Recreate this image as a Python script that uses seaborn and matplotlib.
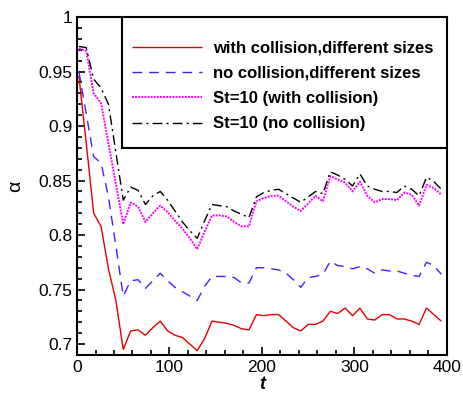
# alpha vs t for the four collision cases
import numpy as np
import pandas as pd
import matplotlib
matplotlib.use("Agg")
import matplotlib.pyplot as plt
import seaborn as sns
from matplotlib.ticker import MultipleLocator
from matplotlib.patches import Rectangle

# -------------------------------
# Data
# -------------------------------
t = [2, 10, 18, 26, 34, 42, 50, 58, 66, 74, 82, 90, 98, 106, 114, 122, 130, 138, 146, 154,
     162, 170, 178, 186, 194, 202, 210, 218, 226, 234, 242, 250, 258, 266, 274, 282, 290, 298,
     306, 314, 322, 330, 338, 346, 354, 362, 370, 378, 386, 394]

coll_diff = [0.946, 0.884, 0.820, 0.808, 0.769, 0.740, 0.695, 0.712, 0.713, 0.708,
             0.715, 0.721, 0.712, 0.708, 0.706, 0.700, 0.694, 0.705, 0.721, 0.720,
             0.719, 0.717, 0.714, 0.713, 0.727, 0.726, 0.727, 0.727, 0.721, 0.715,
             0.712, 0.718, 0.718, 0.721, 0.730, 0.728, 0.733, 0.726, 0.733, 0.723,
             0.722, 0.727, 0.727, 0.723, 0.723, 0.721, 0.718, 0.733, 0.727, 0.721]

nocoll_diff = [0.950, 0.911, 0.872, 0.866, 0.835, 0.790, 0.744, 0.758, 0.759, 0.751,
               0.758, 0.765, 0.758, 0.752, 0.748, 0.744, 0.740, 0.753, 0.762, 0.762,
               0.762, 0.761, 0.756, 0.756, 0.770, 0.770, 0.769, 0.768, 0.765, 0.759,
               0.752, 0.761, 0.762, 0.764, 0.776, 0.772, 0.771, 0.769, 0.771, 0.769,
               0.765, 0.768, 0.767, 0.767, 0.765, 0.763, 0.762, 0.775, 0.772, 0.764]

st10_coll = [0.971, 0.969, 0.930, 0.921, 0.884, 0.847, 0.810, 0.830, 0.826, 0.812,
             0.820, 0.827, 0.821, 0.813, 0.806, 0.797, 0.787, 0.803, 0.818, 0.818,
             0.817, 0.812, 0.808, 0.808, 0.831, 0.834, 0.836, 0.836, 0.831, 0.826,
             0.822, 0.829, 0.836, 0.831, 0.854, 0.851, 0.848, 0.840, 0.849, 0.836,
             0.830, 0.833, 0.833, 0.832, 0.839, 0.837, 0.827, 0.846, 0.843, 0.837]

st10_nocoll = [0.973, 0.972, 0.943, 0.935, 0.920, 0.876, 0.832, 0.844, 0.841, 0.828,
               0.836, 0.840, 0.832, 0.822, 0.812, 0.804, 0.797, 0.813, 0.828, 0.827,
               0.826, 0.822, 0.819, 0.816, 0.835, 0.839, 0.841, 0.842, 0.838, 0.834,
               0.830, 0.835, 0.840, 0.838, 0.858, 0.855, 0.851, 0.845, 0.856, 0.845,
               0.842, 0.840, 0.840, 0.839, 0.845, 0.842, 0.836, 0.853, 0.849, 0.842]

labels = ["with collision,different sizes", "no collision,different sizes",
          "St=10 (with collision)", "St=10 (no collision)"]

df = pd.DataFrame({"t": t, labels[0]: coll_diff, labels[1]: nocoll_diff,
                   labels[2]: st10_coll, labels[3]: st10_nocoll})
long = df.melt(id_vars="t", var_name="case", value_name="alpha")

# -------------------------------
# Plot
# -------------------------------
sns.set_style("ticks")
plt.rcParams["font.family"] = ["Liberation Sans", "DejaVu Sans"]
plt.rcParams["text.color"] = "black"
plt.rcParams["axes.labelcolor"] = "black"
plt.rcParams["xtick.color"] = "black"
plt.rcParams["ytick.color"] = "black"

fig = plt.figure(figsize=(4.64, 3.97), dpi=100)
ax = fig.add_axes([0.166, 0.106, 0.797, 0.851])

colors = ["#e00000", "#4d1aff", "#ff00ff", "black"]
styles = [(0, ()), (0, (7, 5)), (0, (1, 0.6)), (0, (7, 3, 1.5, 3))]
widths = [1.0, 1.0, 1.4, 1.0]

for i, lab in enumerate(labels):
    sns.lineplot(data=long[long["case"] == lab], x="t", y="alpha", ax=ax,
                 color=colors[i], linewidth=widths[i], label=lab)
    ax.lines[-1].set_linestyle(styles[i])

ax.set_xlim(0, 400)
ax.set_ylim(0.69, 1.0)
ax.xaxis.set_minor_locator(MultipleLocator(20))
ax.yaxis.set_minor_locator(MultipleLocator(0.01))
ax.set_xticks([0, 100, 200, 300, 400])
ax.set_xticklabels(["0", "100", "200", "300", "400"])
ax.set_yticks([0.7, 0.75, 0.8, 0.85, 0.9, 0.95, 1.0])
ax.set_yticklabels(["0.7", "0.75", "0.8", "0.85", "0.9", "0.95", "1"])
ax.tick_params(which="both", direction="in", labelsize=12.5, width=1.2,
               color="black", labelcolor="black")
ax.tick_params(which="major", length=6)
ax.tick_params(which="minor", length=3.5)
for s in ax.spines.values():
    s.set_linewidth(1.5)
    s.set_color("black")

ax.set_xlabel("t", fontsize=13, fontweight="bold", fontstyle="italic", labelpad=1)
ax.set_ylabel("α", fontsize=14, labelpad=10)

# legend frame drawn as its own box (Tecplot-style, uneven padding)
ax.add_patch(Rectangle((0.1216, 0.612), 0.8784, 0.388, transform=ax.transAxes,
                       facecolor="white", edgecolor="black", linewidth=1.5, zorder=4))
leg = ax.legend(loc="center", bbox_to_anchor=(0.557, 0.796), borderaxespad=0,
                prop={"weight": "bold", "size": 12}, handlelength=4.2, handletextpad=0.65,
                labelspacing=0.62, borderpad=0, frameon=False)
leg.set_zorder(5)

fig.savefig("out.png", dpi=100)
